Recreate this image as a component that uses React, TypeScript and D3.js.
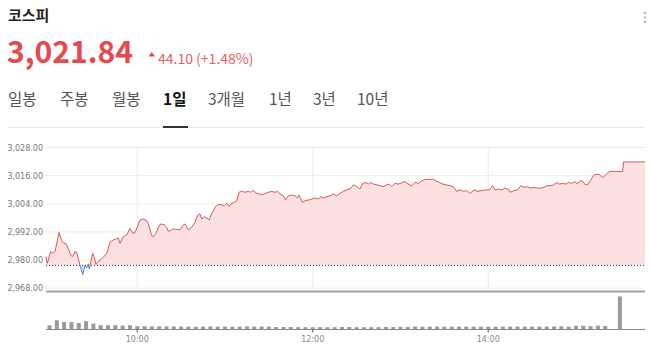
import React from 'react';
import * as d3 from 'd3';

const title = '코스피';
const lastPrice = '3,021.84';
const changeText = '44.10 (+1.48%)';
const prevClose = 2977.74;
const tabs = ['일봉', '주봉', '월봉', '1일', '3개월', '1년', '3년', '10년'];
const activeTab = '1일';
const yTicks = [2968, 2980, 2992, 3004, 3016, 3028];
const xTicks = ['10:00', '12:00', '14:00'];
const xDomain = ['08:57.6', '15:47.2'];

// minutes after 09:00
const priceMinutes = [
  -2.4, -1.5, 0.8, 2.2, 3.8, 6.5, 8.3, 9.9, 11.3, 12.9, 14.7, 15.9, 17.4, 18.6, 19.7, 20.9, 22.7, 24.3, 25.4, 26.5,
  27.2, 28.2, 29.5, 30.4, 31.8, 33.4, 35.0, 36.8, 39.1, 41.4, 43.6, 45.5, 47.0, 48.2, 50.1, 51.6, 53.2, 55.0, 56.9, 58.5,
  60.0, 61.9, 64.1, 66.5, 67.6, 69.9, 71.0, 72.8, 74.4, 76.0, 78.3, 80.1, 81.2, 82.9, 84.6, 87.0, 89.2, 91.1, 92.6, 94.9,
  97.2, 99.5, 101.1, 102.9, 104.1, 105.8, 107.5, 109.1, 110.9, 113.2, 115.0, 117.7, 119.5, 121.2, 122.7, 124.6, 126.4, 128.0, 129.6, 131.4,
  133.7, 135.9, 137.8, 139.4, 141.0, 143.2, 145.1, 147.4, 149.6, 151.9, 154.2, 156.0, 157.6, 159.9, 161.5, 163.3, 165.6, 167.9, 169.4, 170.6,
  172.9, 174.7, 177.0, 179.3, 181.5, 183.8, 185.6, 187.2, 189.5, 191.8, 194.1, 196.4, 198.6, 200.9, 203.2, 205.5, 207.0, 207.7, 210.1, 212.3,
  214.2, 216.4, 218.0, 219.6, 221.4, 223.7, 226.0, 228.2, 230.6, 232.3, 234.0, 236.2, 238.5, 240.8, 243.1, 245.3, 247.7, 249.9, 252.2, 253.8,
  255.6, 257.9, 260.2, 262.4, 264.3, 266.5, 268.9, 271.6, 274.3, 276.6, 278.4, 280.7, 282.9, 285.3, 287.5, 290.3, 292.5, 295.5, 298.5, 300.7,
  303.0, 304.6, 306.9, 309.2, 311.5, 314.4, 314.9, 317.6, 319.9, 322.2, 324.4, 326.7, 329.0, 331.3, 333.5, 336.5, 338.8, 340.0, 342.2, 344.5,
  346.8, 348.6, 350.9, 353.2, 354.7, 357.1, 359.3, 360.9, 362.7, 364.6, 366.4, 368.4, 370.1, 371.8, 373.7, 375.9, 378.3, 380.5, 382.8, 391.9,
  392.5, 407.2,
];
const priceValues = [
  2981.5, 2978.6, 2983.7, 2982.9, 2983.7, 2991.8, 2988.3, 2987.1, 2986.9, 2984.8, 2981.9, 2981.5, 2983.7, 2983.3, 2980.5, 2977.7, 2973.8, 2977.7, 2976.7, 2978.4,
  2976.3, 2979.1, 2982.9, 2981.5, 2978.1, 2979.5, 2980.1, 2981.2, 2982.9, 2987.6, 2988.6, 2989.0, 2989.4, 2987.1, 2989.7, 2990.4, 2991.1, 2993.5, 2991.4, 2991.8,
  2994.0, 2997.1, 2997.5, 2996.8, 2995.4, 2990.4, 2990.0, 2991.4, 2994.0, 2995.4, 2995.1, 2994.0, 2992.3, 2992.6, 2993.3, 2993.1, 2992.9, 2994.7, 2995.4, 2992.9,
  2994.0, 2996.1, 2998.9, 2999.7, 2997.5, 2998.5, 2998.0, 2997.1, 2999.7, 3002.5, 3003.6, 3003.6, 3003.2, 3004.2, 3002.8, 3004.2, 3004.6, 3005.3, 3008.9, 3009.3,
  3008.9, 3009.3, 3008.9, 3009.9, 3008.6, 3008.2, 3007.9, 3008.4, 3008.9, 3009.3, 3008.9, 3009.3, 3008.2, 3007.4, 3005.6, 3007.4, 3007.7, 3007.4, 3006.5, 3007.7,
  3004.6, 3005.3, 3005.6, 3006.0, 3006.5, 3006.0, 3007.0, 3006.5, 3007.0, 3007.4, 3008.2, 3007.4, 3008.4, 3009.3, 3009.9, 3010.5, 3011.3, 3012.1, 3011.3, 3010.3,
  3012.7, 3013.1, 3012.4, 3013.1, 3012.4, 3012.1, 3011.7, 3011.3, 3012.1, 3012.4, 3011.3, 3012.7, 3012.4, 3012.9, 3013.5, 3012.4, 3011.7, 3013.1, 3012.7, 3013.5,
  3014.1, 3014.5, 3014.3, 3014.5, 3013.8, 3013.1, 3012.4, 3012.0, 3011.7, 3011.0, 3009.3, 3009.9, 3009.3, 3009.6, 3008.4, 3009.9, 3009.3, 3009.6, 3009.9, 3009.9,
  3011.7, 3009.9, 3010.3, 3009.9, 3010.7, 3009.9, 3008.9, 3009.6, 3009.9, 3011.7, 3011.0, 3011.3, 3010.7, 3011.0, 3010.7, 3010.7, 3011.3, 3011.7, 3011.7, 3012.0,
  3013.1, 3012.4, 3012.7, 3012.4, 3013.1, 3012.7, 3013.5, 3012.4, 3013.8, 3013.5, 3012.1, 3012.4, 3014.1, 3015.9, 3016.6, 3016.4, 3015.2, 3016.4, 3017.8, 3017.8,
  3021.84, 3021.84,
];

const volTimes = [
  '09:00', '09:05', '09:10', '09:15', '09:20', '09:25', '09:30', '09:35', '09:40', '09:45', '09:50', '09:55',
  '10:00', '10:05', '10:10', '10:15', '10:20', '10:25', '10:30', '10:35', '10:40', '10:45', '10:50', '10:55',
  '11:00', '11:05', '11:10', '11:15', '11:20', '11:25', '11:30', '11:35', '11:40', '11:45', '11:50', '11:55',
  '12:00', '12:05', '12:10', '12:15', '12:20', '12:25', '12:30', '12:35', '12:40', '12:45', '12:50', '12:55',
  '13:00', '13:05', '13:10', '13:15', '13:20', '13:25', '13:30', '13:35', '13:40', '13:45', '13:50', '13:55',
  '14:00', '14:05', '14:10', '14:15', '14:20', '14:25', '14:30', '14:35', '14:40', '14:45', '14:50', '14:55',
  '15:00', '15:05', '15:10', '15:15', '15:20', '15:30',
];
const volValues = [
  1.8, 4.4, 3.5, 3.4, 3.0, 3.9, 2.7, 1.9, 1.9, 1.9, 1.7, 1.9,
  1.4, 1.4, 1.3, 1.3, 1.3, 1.3, 1.2, 1.2, 1.1, 1.2, 1.3, 1.2,
  1.2, 1.2, 1.2, 1.3, 1.2, 1.2, 1.2, 1.0, 1.0, 1.0, 0.9, 0.9,
  0.9, 0.9, 0.9, 0.9, 1.0, 1.0, 0.9, 0.9, 0.9, 0.9, 1.0, 1.0,
  1.1, 1.0, 1.2, 1.1, 1.2, 1.2, 1.2, 1.2, 1.2, 1.2, 1.2, 1.2,
  1.2, 1.2, 1.2, 1.2, 1.2, 1.2, 1.2, 1.2, 1.2, 1.2, 1.3, 1.2,
  1.6, 1.6, 1.4, 1.7, 1.5, 16.3,
];

const toMin = (s: string) => {
  const [h, m] = s.split(':');
  return (parseInt(h, 10) - 9) * 60 + parseFloat(m);
};

const KR = "'Noto Sans CJK KR', 'Noto Sans', sans-serif";
const AX = "'DejaVu Sans', sans-serif";
const RED = '#e8484c';
const LINE_RED = '#d9575a';
const BLUE = '#3f86d9';

export default function App() {
  const left = 46, right = 645;
  const x = d3.scaleLinear().domain(xDomain.map(toMin)).range([left, right]);
  const y = d3.scaleLinear().domain([2968, 3028]).range([288.2, 147.5]);
  const yv = d3.scaleLinear().domain([0, 17]).range([329, 295]);
  const pts = priceMinutes.map((m, i) => [m, priceValues[i]] as [number, number]);
  const yPrev = y(prevClose);
  const line = d3.line<[number, number]>().x(d => x(d[0])).y(d => y(d[1]));
  const area = d3.area<[number, number]>().x(d => x(d[0])).y0(yPrev).y1(d => y(d[1]));
  const tabX = [8, 60, 112, 163, 208, 269, 313, 357];

  return (
    <svg width={650} height={358} style={{ position: 'absolute', left: 0, top: 0, background: '#fff' }}>
      <defs>
        <clipPath id="above"><rect x={0} y={0} width={650} height={yPrev} /></clipPath>
        <clipPath id="below"><rect x={0} y={yPrev} width={650} height={358 - yPrev} /></clipPath>
      </defs>
      {/* header */}
      <text x={8} y={21} fontFamily={KR} fontSize={15} fontWeight={700} fill="#222">{title}</text>
      {[13, 17.5, 22].map((cy, i) => <circle key={i} cx={645} cy={cy} r={1.3} fill="#bbb" />)}
      <text x={7} y={63} fontFamily={KR} fontSize={30} fontWeight={600} textLength={126} lengthAdjust="spacingAndGlyphs" fill={RED}>{lastPrice}</text>
      <path d="M148.5,56.5 L151.8,52 L155,56.5 Z" fill={RED} />
      <text x={158} y={64} fontFamily={KR} fontSize={14} fill="#e8605f">{changeText}</text>
      {tabs.map((t, i) => (
        <text key={t} x={tabX[i]} y={105} fontFamily={KR} fontSize={15.5}
          fontWeight={t === activeTab ? 700 : 400} fill={t === activeTab ? '#111' : '#555'}>{t}</text>
      ))}
      <line x1={8} x2={645} y1={127.5} y2={127.5} stroke="#e8e8e8" />
      {tabs.map((t, i) => t === activeTab ? (
        <rect key={'u' + t} x={tabX[i]} y={126} width={25} height={2} fill="#333" />
      ) : null)}

      {/* grid */}
      {yTicks.map(v => (
        <g key={v}>
          <line x1={left} x2={right} y1={y(v)} y2={y(v)} stroke="#ececec" />
          <text x={43} y={y(v) + 3} textAnchor="end" fontFamily={AX} fontSize={8} fill="#777">{d3.format(',.2f')(v)}</text>
        </g>
      ))}
      {xTicks.map(t => (
        <line key={t} x1={x(toMin(t))} x2={x(toMin(t))} y1={147.5} y2={288} stroke="#ececec" />
      ))}

      {/* price */}
      <path d={area(pts) || ''} fill="#fde1e1" clipPath="url(#above)" />
      <path d={area(pts) || ''} fill="#dce9f8" clipPath="url(#below)" />
      <line x1={left} x2={right} y1={yPrev} y2={yPrev} stroke="#333" strokeDasharray="1,2" />
      <path d={line(pts) || ''} fill="none" stroke={LINE_RED} strokeWidth={1} clipPath="url(#above)" />
      <path d={line(pts) || ''} fill="none" stroke={BLUE} strokeWidth={1} clipPath="url(#below)" />

      <line x1={left} x2={right} y1={291.5} y2={291.5} stroke="#a3a3a3" strokeWidth={2} />

      {/* volume */}
      {volTimes.map((t, i) => (
        <rect key={t} x={x(toMin(t)) - 2} y={yv(volValues[i])} width={4} height={yv(0) - yv(volValues[i])} fill="#9a9a9a" />
      ))}
      <line x1={left} x2={right} y1={329.5} y2={329.5} stroke="#8a8a8a" />
      {xTicks.map(t => (
        <g key={'xt' + t}>
          <line x1={x(toMin(t))} x2={x(toMin(t))} y1={329.5} y2={332.5} stroke="#555" />
          <text x={x(toMin(t))} y={342} textAnchor="middle" fontFamily={AX} fontSize={8} fill="#888">{t}</text>
        </g>
      ))}
    </svg>
  );
}
